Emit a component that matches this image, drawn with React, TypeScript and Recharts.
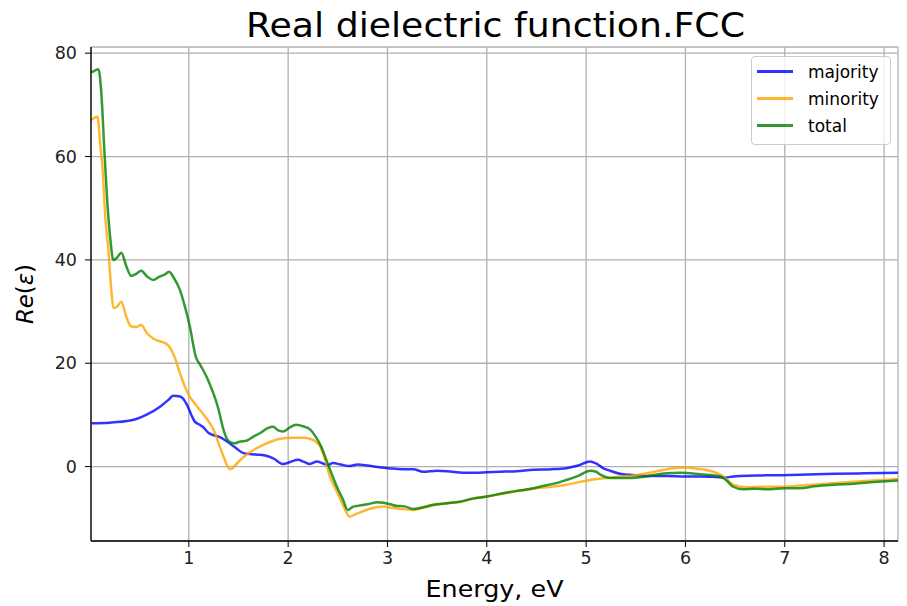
import React from "react";
import { LineChart, Line, XAxis, YAxis, CartesianGrid } from "recharts";

// ─── Data ────────────────────────────────────────────────────────────────────

const majorityE = [
  0.02, 0.2, 0.41, 0.57, 0.71, 0.8, 0.84, 0.9, 0.94, 0.99, 1.03, 1.06, 1.1,
  1.14, 1.2, 1.245, 1.3, 1.35, 1.41, 1.48, 1.55, 1.63, 1.71, 1.78, 1.85, 1.95,
  2.02, 2.1, 2.16, 2.22, 2.29, 2.35, 2.4, 2.45, 2.53, 2.62, 2.7, 2.8, 2.9,
  3.01, 3.15, 3.26, 3.36, 3.5, 3.65, 3.8, 4.0, 4.13, 4.3, 4.47, 4.65, 4.8,
  4.92, 5.04, 5.1, 5.17, 5.24, 5.34, 5.44, 5.6, 5.81, 6.0, 6.15, 6.3, 6.41,
  6.48, 6.55, 6.8, 7.15, 7.5, 7.8, 8.14,
];
const majorityV = [
  8.4, 8.5, 8.9, 10, 11.6, 13, 13.7, 13.6, 13.2, 11.6, 9.8, 8.7, 8.2, 7.7,
  6.5, 6.1, 5.8, 5.3, 4.5, 3.5, 2.6, 2.4, 2.3, 2.1, 1.6, 0.5, 0.9, 1.3, 0.9,
  0.5, 1.0, 0.6, 0.3, 0.7, 0.4, 0.1, 0.4, 0.2, -0.1, -0.3, -0.5, -0.5, -1.0,
  -0.8, -1.0, -1.2, -1.1, -1.0, -0.9, -0.6, -0.5, -0.3, 0.2, 1.0, 0.6, -0.3,
  -0.8, -1.4, -1.6, -1.8, -1.8, -1.9, -1.9, -2.0, -2.1, -1.9, -1.8, -1.7,
  -1.6, -1.4, -1.3, -1.2,
];

const minorityE = [
  0.02, 0.05, 0.08, 0.11, 0.13, 0.16, 0.19, 0.22, 0.24, 0.28, 0.32, 0.37,
  0.42, 0.47, 0.52, 0.58, 0.64, 0.7, 0.76, 0.8, 0.86, 0.91, 0.96, 1.01, 1.06,
  1.11, 1.16, 1.21, 1.25, 1.3, 1.35, 1.39, 1.42, 1.47, 1.53, 1.58, 1.66, 1.75,
  1.85, 1.92, 2.05, 2.15, 2.22, 2.28, 2.32, 2.37, 2.42, 2.49, 2.56, 2.62,
  2.67, 2.72, 2.8, 2.9, 2.96, 3.05, 3.15, 3.26, 3.35, 3.46, 3.6, 3.73, 3.86,
  4.0, 4.15, 4.3, 4.47, 4.6, 4.8, 5.04, 5.2, 5.3, 5.44, 5.64, 5.88, 6.0, 6.11,
  6.28, 6.38, 6.48, 6.62, 6.8, 6.99, 7.2, 7.49, 7.8, 8.14,
];
const minorityV = [
  67.1, 67.5, 67.7, 62, 58, 48, 42, 34, 30.7, 31.0, 31.9, 29, 27.1, 27.0,
  27.4, 25.8, 24.8, 24.3, 23.9, 23.3, 21, 18.1, 15.5, 13.5, 12.2, 11, 9.8,
  8.4, 7.1, 4.5, 1.9, 0, -0.5, 0.3, 1.5, 2.3, 3.3, 4.2, 5.0, 5.4, 5.6, 5.6,
  5.4, 4.8, 3.9, 1.5, -1.9, -4.8, -7.8, -9.7, -9.3, -8.9, -8.3, -7.8, -7.7,
  -8.0, -8.2, -8.4, -8.0, -7.5, -7.1, -6.8, -6.2, -5.8, -5.3, -4.8, -4.3,
  -4.0, -3.5, -2.6, -2.2, -2.0, -1.8, -1.2, -0.3, -0.2, -0.4, -1.0, -1.9,
  -3.5, -4.0, -3.9, -3.9, -3.6, -3.2, -2.8, -2.4,
];

const totalE = [
  0.02, 0.05, 0.09, 0.12, 0.15, 0.18, 0.21, 0.24, 0.28, 0.32, 0.37, 0.42,
  0.47, 0.52, 0.58, 0.64, 0.7, 0.76, 0.8, 0.85, 0.91, 0.96, 1.01, 1.07, 1.12,
  1.16, 1.21, 1.26, 1.3, 1.345, 1.38, 1.41, 1.46, 1.51, 1.58, 1.65, 1.72, 1.8,
  1.85, 1.9, 1.95, 2.01, 2.08, 2.15, 2.22, 2.27, 2.33, 2.39, 2.44, 2.49, 2.55,
  2.6, 2.65, 2.7, 2.8, 2.9, 2.96, 3.03, 3.09, 3.17, 3.26, 3.35, 3.46, 3.6,
  3.73, 3.86, 4.0, 4.15, 4.3, 4.47, 4.6, 4.7, 4.8, 4.92, 5.04, 5.1, 5.14,
  5.24, 5.35, 5.44, 5.6, 5.81, 5.95, 6.15, 6.35, 6.42, 6.48, 6.58, 6.7, 6.82,
  7.0, 7.15, 7.3, 7.49, 7.7, 7.9, 8.14,
];
const totalV = [
  76.3, 76.6, 76.9, 72, 61, 51, 44, 40, 40.5, 41.4, 38.8, 36.9, 37.3, 37.9,
  36.8, 36.1, 36.7, 37.2, 37.7, 36.5, 34.2, 31, 27.1, 21.3, 19.5, 18.1, 16.0,
  13.5, 11, 7.4, 5.5, 4.8, 4.5, 4.8, 5.0, 5.8, 6.5, 7.5, 7.7, 7.0, 6.8, 7.5,
  8.1, 7.8, 7.2, 6.0, 4, 1.0, -1.5, -3.9, -6.3, -8.4, -7.8, -7.6, -7.3, -6.9,
  -7.0, -7.3, -7.6, -7.7, -8.2, -7.9, -7.4, -7.1, -6.8, -6.2, -5.8, -5.2,
  -4.7, -4.2, -3.6, -3.2, -2.6, -1.8, -0.8, -1.0, -1.5, -2.2, -2.2, -2.2,
  -1.9, -1.3, -1.2, -1.5, -1.9, -2.8, -3.9, -4.4, -4.3, -4.4, -4.2, -4.2,
  -3.8, -3.5, -3.3, -3.0, -2.7,
];

const xTicks = [1, 2, 3, 4, 5, 6, 7, 8];
const yTicks = [0, 20, 40, 60, 80];

const series = [
  { name: "majority", color: "#0000ff", e: majorityE, v: majorityV },
  { name: "minority", color: "#ffa500", e: minorityE, v: minorityV },
  { name: "total", color: "#008000", e: totalE, v: totalV },
];

// ─── Helpers ─────────────────────────────────────────────────────────────────

const FONT = "'DejaVu Sans', sans-serif";
const X_DOMAIN: [number, number] = [0.015, 8.14];
const Y_DOMAIN: [number, number] = [-14.4, 81.2];

const toPoints = (es: number[], vs: number[]) =>
  es.map((e, i) => ({ e, v: vs[i] }));

function LegendBox() {
  return (
    <div
      style={{
        position: "absolute",
        left: 751,
        top: 56,
        width: 138,
        height: 85,
        border: "1px solid #cccccc",
        borderRadius: 4,
        background: "rgba(255,255,255,0.8)",
        padding: "1px 0",
        fontFamily: FONT,
        fontSize: 17,
        color: "#000",
      }}
    >
      {series.map((s) => (
        <div
          key={s.name}
          style={{ display: "flex", alignItems: "center", height: 27 }}
        >
          <span
            style={{
              display: "inline-block",
              width: 36,
              height: 2.5,
              marginLeft: 5,
              background: s.color,
              opacity: 0.8,
            }}
          />
          <span style={{ marginLeft: 15 }}>{s.name}</span>
        </div>
      ))}
    </div>
  );
}

// ─── Main component ──────────────────────────────────────────────────────────

export default function App() {
  const tickStyle = { fontSize: 17.5, fill: "#222", fontFamily: FONT };

  return (
    <div
      style={{
        position: "absolute",
        left: 0,
        top: 0,
        width: 907,
        height: 606,
        background: "#fff",
      }}
    >
      <LineChart
        width={907}
        height={606}
        margin={{ top: 47, right: 9, bottom: 0, left: 0 }}
      >
        <CartesianGrid stroke="#b0b0b0" strokeWidth={1.3} />

        <XAxis
          dataKey="e"
          type="number"
          domain={X_DOMAIN}
          ticks={xTicks}
          allowDataOverflow
          height={65}
          tick={tickStyle}
          tickSize={6}
          tickMargin={5}
          tickLine={{ stroke: "#000" }}
          axisLine={{ stroke: "#000", strokeWidth: 1.3 }}
          label={{
            content: ({ viewBox }: any) => (
              <text
                x={viewBox.x + viewBox.width / 2}
                y={viewBox.y + 56}
                textAnchor="middle"
                fontSize={23.5}
                fontFamily={FONT}
                fill="#000"
                textLength={138}
                lengthAdjust="spacingAndGlyphs"
              >
                Energy, eV
              </text>
            ),
          }}
        />
        {/* top spine */}
        <XAxis
          xAxisId="top"
          orientation="top"
          type="number"
          domain={X_DOMAIN}
          allowDataOverflow
          height={0}
          tick={false}
          tickLine={false}
          axisLine={{ stroke: "#000", strokeWidth: 1.3 }}
        />

        <YAxis
          type="number"
          domain={Y_DOMAIN}
          ticks={yTicks}
          allowDataOverflow
          width={91}
          tick={tickStyle}
          tickSize={6}
          tickMargin={8}
          tickLine={{ stroke: "#000" }}
          axisLine={{ stroke: "#000", strokeWidth: 1.3 }}
          label={{
            content: () => {
              const cx = 33;
              const cy = 294;
              return (
                <text
                  x={cx}
                  y={cy}
                  transform={`rotate(-90, ${cx}, ${cy})`}
                  textAnchor="middle"
                  fontSize={23}
                  fontFamily={FONT}
                  fill="#000"
                  textLength={60}
                  lengthAdjust="spacing"
                >
                  <tspan fontStyle="italic">Re</tspan>
                  <tspan>(</tspan>
                  <tspan fontStyle="italic">ε</tspan>
                  <tspan>)</tspan>
                </text>
              );
            },
          }}
        />
        {/* right spine */}
        <YAxis
          yAxisId="right"
          orientation="right"
          type="number"
          domain={Y_DOMAIN}
          width={0}
          tick={false}
          tickLine={false}
          axisLine={{ stroke: "#000", strokeWidth: 1.3 }}
        />

        {series.map((s) => (
          <Line
            key={s.name}
            data={toPoints(s.e, s.v)}
            dataKey="v"
            name={s.name}
            type="monotone"
            stroke={s.color}
            strokeOpacity={0.8}
            strokeWidth={2.5}
            dot={false}
            activeDot={false}
            isAnimationActive={false}
          />
        ))}
      </LineChart>

      {/* title */}
      <svg
        width={907}
        height={47}
        style={{ position: "absolute", left: 0, top: 0, pointerEvents: "none" }}
      >
        <text
          x={495.5}
          y={37}
          textAnchor="middle"
          fontSize={34}
          fontFamily={FONT}
          fill="#000"
          textLength={499}
          lengthAdjust="spacingAndGlyphs"
        >
          Real dielectric function.FCC
        </text>
      </svg>

      <LegendBox />
    </div>
  );
}
